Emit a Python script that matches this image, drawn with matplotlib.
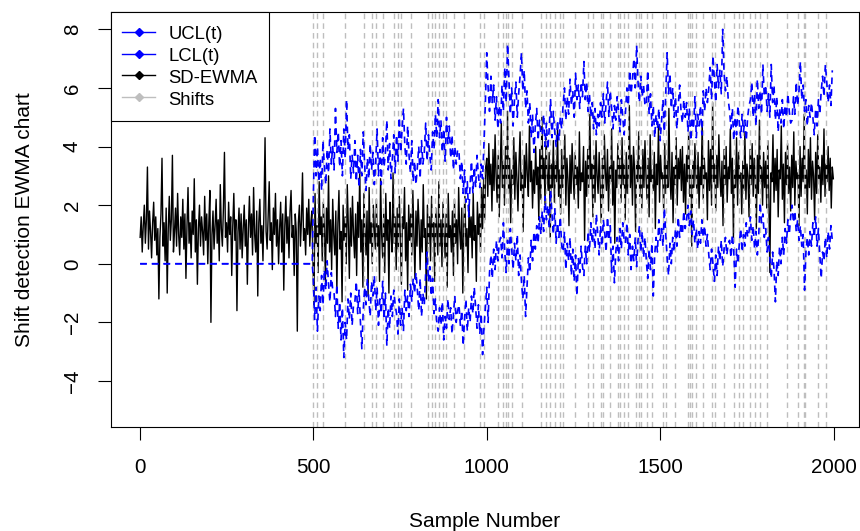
import numpy as np
import matplotlib.pyplot as plt
from matplotlib.lines import Line2D

plt.rcParams['font.family'] = ['Liberation Sans', 'DejaVu Sans']

ewma_x = np.arange(1, 2001, 3)
ewma = [
    0.9, 1.6, 0.4, 1.3, 2.0, 0.7, 1.5, 3.3, 0.5, 1.8, 1.1, 0.2, 1.4, 2.1, 0.8, 1.6, 0.3, 1.2, -1.2, 0.9,
    1.7, 3.6, 0.6, 1.4, 0.1, 1.9, -1.0, 1.2, 2.3, 0.8, 1.5, 3.7, 0.4, 1.1, 1.9, 0.6, 2.4, 1.0, 0.3, 1.6,
    0.9, 2.2, 0.5, 1.7, -0.5, 1.3, 2.6, 0.7, 1.4, 0.2, 1.8, 1.0, 2.9, 0.4, 1.5, -0.7, 1.2, 2.0, 0.6, 1.6,
    1.1, 0.3, 2.3, 0.8, 1.7, 0.0, 1.4, 2.5, -2.0, 1.0, 1.8, 0.5, 1.3, 2.2, 0.7, 1.5, 0.1, 2.7, 1.2, 0.6,
    1.9, 3.8, 0.9, 1.4, 0.4, 2.1, 1.0, 1.6, -0.4, 1.3, 2.4, 0.8, 1.5, -1.6, 1.1, 1.9, 0.5, 1.7, 0.2, 1.2,
    2.0, 0.6, 1.5, -0.7, 1.2, 2.3, 0.9, 1.7, 0.3, 2.6, 1.0, 0.4, 1.8, -1.1, 1.4, 2.2, 0.7, 1.3, 0.1, 1.9,
    4.3, 1.1, 0.5, 1.6, 2.8, 0.8, 1.4, -0.2, 1.9, 1.0, 2.4, 0.6, 1.5, 0.0, 1.2, 2.1, 0.4, 1.7, -0.9, 1.3,
    2.3, 0.7, 1.6, 0.2, 1.8, 2.5, 0.9, 1.3, -0.4, 1.7, 1.1, -2.3, 1.4, 2.0, 0.6, 1.5, 3.1, 0.8, 1.2, 0.3,
    1.9, 1.0, 2.2, 0.6, 1.4, 1.8, 0.2, -1.5, 2.4, 0.7, 1.3, -0.3, 2.8, 1.0, 1.6, 0.1, 2.1, 1.2, -0.6, 1.9,
    0.7, 3.0, 0.4, 1.5, -0.2, 2.2, 1.0, 0.3, 1.8, -0.9, 1.4, 2.5, 0.5, 1.1, -1.3, 2.0, 0.8, 1.6, 0.0, 2.7,
    1.3, -0.5, 1.9, 0.6, 2.3, 1.0, 0.2, 1.7, -0.4, 2.1, 0.9, 3.2, 0.4, 1.5, -0.8, 2.4, 1.1, 0.3, 1.8, -1.1,
    2.6, 0.7, 1.4, 0.0, 2.0, 1.2, 0.5, 2.2, 0.6, 1.3, -0.6, 2.9, 1.0, 0.2, 1.7, -0.3, 2.4, 0.8, 1.5, -1.0,
    2.1, 1.1, 0.4, 3.1, 0.7, 1.6, -0.2, 1.9, 0.5, 2.3, 0.9, -0.7, 1.6, 1.2, 2.6, 0.1, 1.4, -0.9, 2.0, 0.8,
    1.7, 0.3, 2.5, 1.0, -0.5, 1.8, 0.6, 2.2, 1.3, -0.2, 1.5, 0.4, 2.7, 0.9, 1.2, -1.2, 2.0, 0.7, 1.6, 0.1,
    2.3, 0.8, 1.4, -0.6, 1.9, 1.1, 0.3, 2.8, 0.6, 1.5, -0.1, 2.1, 1.0, 0.2, 1.7, -0.8, 2.4, 0.9, 1.3, 0.4,
    1.8, -0.4, 2.2, 0.7, 1.5, 0.0, 2.6, 1.1, 0.5, 1.9, -1.0, 1.4, 2.3, 0.6, 1.2, -0.3, 2.0, 0.9, 1.6, 0.2,
    2.4, 0.8, 1.3, -0.6, 2.1, 1.0, 1.7, 0.4, 2.6, 1.2, 2.9, 1.5, 3.3, 3.6, 2.3, 4.1, 2.7, 3.4, 1.8, 3.9,
    2.5, 4.4, 3.0, 2.1, 3.7, 1.6, 3.3, 4.8, 2.6, 3.5, 2.0, 4.0, 2.9, 5.2, 2.4, 3.6, 1.4, 3.2, 2.7, 4.3,
    2.2, 3.8, 2.9, 1.8, 3.4, 4.5, 2.5, 3.1, 1.1, 3.7, 2.6, 4.1, 3.0, 2.3, 4.7, 2.8, 3.5, 1.9, 3.2, 2.4,
    4.0, 2.7, 3.3, 1.5, 3.9, 2.2, 5.0, 2.9, 3.6, 2.0, 4.3, 3.1, 2.5, 3.8, 0.9, 3.4, 2.6, 4.2, 2.1, 3.5,
    2.8, 4.6, 2.3, 3.2, 1.7, 3.9, 2.6, 3.4, 4.4, 2.0, 3.6, 2.9, 1.3, 3.7, 2.4, 4.1, 3.0, 2.2, 3.8, 2.7,
    3.3, 1.9, 4.5, 2.5, 3.1, 2.8, 4.0, 0.8, 3.5, 2.3, 3.9, 2.6, 5.1, 2.9, 3.4, 1.6, 3.7, 2.1, 4.2, 3.0,
    2.4, 3.8, 2.7, 1.4, 3.6, 2.2, 4.4, 3.1, 2.5, 3.9, 1.8, 3.3, 2.8, 4.6, 2.0, 3.5, 0.7, 3.2, 2.6, 4.1,
    2.9, 3.6, 2.1, 4.3, 2.7, 3.4, 1.5, 3.8, 2.4, 3.1, 5.4, 2.6, 3.7, 2.0, 4.0, 3.2, 1.1, 3.5, 2.8, 4.5,
    2.3, 3.3, 1.9, 3.9, 2.6, 4.2, 3.0, 2.2, 3.6, 1.6, 4.4, 2.8, 3.2, 2.5, 3.8, 1.2, 3.4, 2.7, 4.7, 2.1,
    3.7, 2.9, 3.1, 1.8, 4.1, 2.4, 3.5, 2.6, 5.3, 3.0, 2.2, 3.8, 1.4, 3.3, 2.7, 4.3, 2.0, 3.6, 2.9, 3.9,
    2.5, 4.0, 2.1, 3.4, 1.7, 3.7, 2.8, 4.5, 2.3, 3.2, 0.6, 3.5, 2.6, 4.1, 3.0, 2.4, 3.8, 1.9, 3.3, 2.7,
    4.8, 2.2, 3.6, 2.9, 3.1, 1.5, 4.2, 2.5, 3.9, 2.0, 5.5, 2.8, 3.4, 1.8, 3.7, 2.6, 4.4, 3.0, 2.3, 3.5,
    1.3, 3.9, 2.7, 4.0, 2.1, 3.3, 2.9, 4.6, 2.4, 3.6, 0.9, 3.2, 2.6, 4.3, 2.0, 3.8, 2.8, 3.1, 1.7, 3.5,
    2.5, 4.5, 2.2, 3.4, 3.0, 1.6, 3.9, 2.7, 4.1, 2.3, 3.6, 2.9, 1.2, 3.7, 2.4, 4.9, 2.8, 3.3, 2.0, 3.8,
    2.6, 3.5, 1.9, 4.2, 2.3, -0.3, 3.1, 2.8, 4.4, 2.1, 3.6, 2.5, 3.9, 1.6, 3.2, 2.9, 4.7, 2.2, 3.4, 1.4,
    3.8, 2.7, 4.1, 2.4, 3.3, 1.8, 3.7, 2.6, 4.5, 2.0, 3.5, 2.9, 3.1, 1.3, 4.0, 2.3, 3.6, 2.8, 5.1, 2.5,
    3.2, 1.7, 3.9, 2.6, 4.3, 2.2, 3.5, 3.0, 1.5, 3.8, 2.4, 4.4, 2.9, 3.3, 2.1, 3.7, 2.7, 4.6, 2.3, 3.4,
    2.8, 4.0, 2.5, 3.6, 1.9, 3.3, 2.9,
]

# control limits: flat at zero before sample 500, then every 4th sample
lim_flat_x = [1, 497]
lim_flat = [0.0, 0.0]
lim_x = np.arange(500, 2000, 4)
ucl = [
    2.2, 4.4, 3.0, 4.0, 2.8, 3.6, 2.5, 4.2, 3.3, 2.7, 3.9, 3.1, 4.6, 3.4, 4.0,
    3.2, 5.3, 3.8, 4.5, 3.3, 4.2, 3.0, 4.6, 3.6, 5.6, 3.9, 4.4, 2.9, 3.7, 3.1,
    4.2, 2.8, 3.7, 2.6, 3.9, 3.0, 4.5, 3.4, 2.5, 3.6, 2.9, 4.1, 3.2, 3.8, 2.7,
    3.5, 4.6, 3.0, 3.9, 2.7, 4.3, 3.3, 3.8, 4.9, 3.2, 4.1, 2.9, 3.6, 4.4, 3.1,
    4.4, 3.5, 5.0, 3.8, 4.6, 5.3, 4.0, 3.4, 4.7, 3.7, 3.1, 4.2, 2.8, 3.5, 2.7,
    3.3, 4.0, 2.9, 4.2, 3.4, 3.8, 4.8, 3.5, 4.4, 3.7, 3.2, 4.5, 3.9, 5.1, 4.3,
    5.6, 4.3, 4.9, 3.8, 4.6, 3.5, 5.0, 4.1, 4.7, 3.6, 4.4, 3.2, 4.0, 3.4, 3.9,
    3.8, 2.9, 3.5, 2.4, 3.2, 2.1, 2.8, 1.6, 2.7, 3.5, 2.4, 3.3, 2.6, 3.7, 3.0,
    2.6, 3.4, 2.9, 4.1, 5.5, 7.2, 6.0, 5.2, 6.4, 5.5, 6.1, 4.9, 5.7, 4.6, 5.4,
    4.8, 6.1, 5.2, 6.7, 5.5, 7.5, 6.3, 5.1, 6.0, 4.7, 5.6, 6.2, 5.0, 5.8, 6.4,
    7.2, 5.9, 6.6, 5.3, 5.9, 4.8, 5.5, 4.3, 5.1, 3.8, 4.7, 5.3, 4.2, 4.9, 4.4,
    4.4, 5.1, 4.0, 4.8, 3.9, 4.6, 5.6, 4.3, 5.2, 4.5, 4.0, 4.9, 4.2, 5.0, 4.6,
    5.4, 6.0, 4.9, 5.7, 5.1, 6.3, 5.4, 5.9, 5.0, 6.5, 5.6, 6.1, 5.3, 6.2, 5.7,
    6.9, 5.6, 6.2, 5.2, 5.8, 5.0, 5.5, 4.6, 5.3, 4.4, 5.1, 4.7, 5.5, 5.0, 5.8,
    4.8, 5.5, 6.2, 5.0, 5.9, 5.3, 4.6, 5.4, 4.9, 5.7, 5.2, 4.5, 5.6, 5.0, 4.4,
    5.2, 6.0, 5.4, 6.6, 5.8, 6.3, 7.0, 6.0, 7.45, 6.2, 5.5, 6.4, 5.7, 6.1, 5.4,
    5.4, 6.6, 5.1, 5.8, 4.7, 5.4, 4.3, 5.1, 4.6, 5.3, 4.2, 4.9, 5.6, 4.5, 5.9,
    7.2, 5.8, 6.5, 5.3, 6.0, 5.0, 5.7, 4.6, 5.4, 6.1, 5.2, 4.8, 5.6, 5.0, 5.5,
    4.5, 5.3, 4.2, 5.0, 4.6, 5.7, 4.3, 5.1, 4.7, 5.4, 4.4, 5.9, 5.2, 6.0, 5.5,
    6.0, 6.7, 5.6, 7.1, 6.3, 5.5, 6.8, 6.0, 6.6, 5.8, 8.0, 6.5, 5.9, 6.4, 5.6,
    5.2, 4.6, 5.3, 4.2, 5.0, 4.4, 5.4, 4.8, 4.3, 5.1, 4.5, 4.9, 4.2, 5.0, 5.4,
    5.6, 6.2, 5.0, 5.8, 4.7, 6.3, 5.3, 5.9, 5.1, 6.8, 5.7, 6.1, 5.2, 5.8, 5.0,
    6.8, 5.5, 6.1, 4.9, 5.7, 4.5, 5.3, 4.8, 5.6, 4.6, 5.4, 5.0, 5.8, 5.2, 4.8,
    4.9, 5.7, 5.1, 6.2, 5.4, 5.9, 6.9, 5.6, 6.1, 5.2, 5.6, 4.7, 5.4, 5.0, 5.5,
    5.0, 4.4, 5.3, 4.7, 5.6, 5.1, 5.9, 6.4, 5.7, 6.8, 6.2, 5.5, 6.1, 5.4, 6.6,
]
lcl = [
    -0.5, -1.9, -0.8, -2.3, -1.1, -1.6, -0.4, -1.4, -0.2, -0.9, 0.1, -0.7, -1.3, -0.3, -0.9,
    -1.0, -1.8, -0.7, -2.2, -1.3, -2.6, -1.5, -3.2, -2.0, -2.6, -1.2, -1.9, -1.0, -2.1, -1.4,
    -1.3, -0.6, -1.7, -0.9, -2.0, -2.9, -1.6, -0.8, -1.4, -0.5, -1.2, -1.8, -0.6, -1.1, -0.4,
    -1.6, -0.8, -2.1, -1.2, -1.7, -0.6, -1.9, -1.0, -2.8, -1.5, -2.2, -1.1, -1.8, -0.9, -1.4,
    -1.7, -2.4, -1.2, -2.1, -1.5, -2.3, -0.9, -1.6, -1.1, -1.8, -0.7, -1.3, -0.5, -1.0, -0.3,
    -0.9, -1.6, -0.5, -1.8, -1.0, -1.4, -0.3, 0.4, -0.6, -0.1, -1.1, -0.5, -1.7, -1.2, -2.0,
    -2.3, -1.5, -2.1, -1.3, -2.6, -1.8, -2.2, -1.2, -1.9, -1.5, -2.4, -1.7, -1.1, -2.0, -1.6,
    -1.4, -2.1, -1.6, -2.8, -1.9, -1.2, -2.3, -1.5, -2.0, -1.1, -1.7, -0.8, -1.5, -2.2, -1.4,
    -2.4, -1.7, -3.1, -2.2, -1.5, -0.8, -2.0, -0.3, 0.3, -0.5, 0.5, -0.2, 0.8, 0.1, 0.7,
    0.9, 0.2, 1.4, 0.4, -0.3, 0.8, 0.0, 1.2, 0.5, -0.2, 0.7, 0.1, 1.0, -0.4, 0.3,
    -0.6, -1.2, -0.4, -1.8, -0.8, 0.2, -0.3, 0.8, 0.1, 1.1, 0.5, 1.3, 0.7, 1.6, 1.0,
    1.8, 1.1, 2.3, 1.5, 2.0, 1.2, 2.5, 1.7, 1.0, 1.9, 0.7, 1.4, 0.9, 1.6, 0.6,
    0.4, 1.1, -0.2, 0.7, 0.1, 0.9, -0.4, 0.5, -0.6, 0.3, -1.1, 0.2, -0.3, 0.6, -0.1,
    -0.4, 0.6, 0.0, 1.1, 0.4, 1.4, 0.7, 1.2, 0.5, 1.7, 1.0, 0.3, 1.3, 0.6, 1.5,
    1.1, 0.4, 1.6, 0.8, 1.3, -0.3, 0.6, -0.65, 0.4, 0.9, 0.1, 1.2, 0.5, 1.4, 0.8,
    0.7, 1.4, 0.3, 1.0, -0.2, 0.6, 0.1, 0.9, -0.1, 0.8, 1.3, 0.4, 1.1, 0.2, 0.9,
    0.1, -0.5, 0.5, -0.2, 0.7, -1.1, 0.3, 0.9, 0.4, 1.5, 0.8, 1.2, 0.6, 1.9, 1.0,
    0.2, -0.4, 0.7, 0.0, 0.9, 0.4, 1.2, 0.6, 1.6, 0.9, 1.4, 1.0, 1.8, 1.2, 1.5,
    2.0, 1.3, 1.8, 1.0, 1.5, 0.7, 1.2, 0.5, 1.1, 0.7, 1.5, 0.9, 1.3, 0.6, 1.0,
    0.3, -0.2, 0.5, 0.0, -0.6, 0.3, -0.4, 0.6, 0.1, 0.8, -0.1, 0.5, 0.9, 0.3, 0.7,
    0.8, 0.2, 1.0, 0.4, -0.8, 0.5, 0.0, 0.7, 1.2, 0.4, 1.0, 0.6, 1.4, 0.9, 1.1,
    1.6, 0.8, 1.3, 0.5, 1.1, 0.3, 1.0, 2.1, 1.4, 1.7, 0.9, 1.2, 0.4, 0.9, 0.2,
    -0.5, 0.4, -0.2, -1.3, 0.1, -0.4, 0.6, 0.0, 0.9, 0.3, 1.2, 0.7, 1.5, 1.0, 1.6,
    2.0, 1.4, 1.8, 1.1, 1.5, 0.8, 1.3, 0.6, 1.0, -0.9, 0.4, 0.9, 0.3, 1.1, 0.6,
    1.4, 0.9, 1.6, 0.6, 1.2, 0.3, -0.5, 0.4, 0.1, 0.9, 0.2, 1.1, 0.5, 1.3, 0.8,
]

# detected shift positions
shifts = [500, 511, 529, 591, 647, 668, 681, 702, 733, 743, 752, 781, 831, 843, 851,
          863, 875, 884, 905, 935, 982, 992, 1033, 1047, 1055, 1062, 1073, 1103, 1155,
          1170, 1182, 1196, 1211, 1220, 1254, 1291, 1307, 1329, 1334, 1355, 1377, 1384,
          1395, 1406, 1429, 1439, 1446, 1461, 1477, 1509, 1518, 1542, 1581, 1585, 1592,
          1602, 1624, 1650, 1658, 1683, 1712, 1727, 1739, 1758, 1773, 1789, 1808, 1864,
          1898, 1914, 1917, 1955, 1977]

fig = plt.figure(figsize=(8.6, 5.31), dpi=100)
ax = fig.add_axes([111 / 860, 1 - 426.7 / 531, 747.5 / 860, 414.4 / 531])

dash = (0, (4, 3))
ax.plot(ewma_x, ewma, color='black', lw=1.0, zorder=1)
for s in shifts:
    ax.axvline(s, color='#BEBEBE', lw=1.0, ls=dash, zorder=2)
ax.plot(np.r_[lim_flat_x, lim_x], np.r_[lim_flat, ucl], color='blue', lw=1.2, ls=dash, zorder=3)
ax.plot(np.r_[lim_flat_x, lim_x], np.r_[lim_flat, lcl], color='blue', lw=1.2, ls=dash, zorder=3)

ax.set_xlim(-83, 2071.5)
ax.set_ylim(-5.56, 8.58)
ax.set_xticks([0, 500, 1000, 1500, 2000])
ax.set_yticks([-4, -2, 0, 2, 4, 6, 8])
ax.tick_params(length=9.4, width=0.8, labelsize=14.8)
ax.tick_params(axis='x', pad=13)
ax.tick_params(axis='y', pad=11.5)
for lab in ax.get_yticklabels():
    lab.set_rotation(90)
    lab.set_va('center')
for sp in ax.spines.values():
    sp.set_linewidth(0.8)

ax.set_xlabel('Sample Number', fontsize=15, labelpad=25)
ax.set_ylabel('Shift detection EWMA chart', fontsize=15, labelpad=21)

handles = [
    Line2D([], [], color='blue', lw=1, marker='D', ms=4),
    Line2D([], [], color='blue', lw=1, marker='D', ms=4),
    Line2D([], [], color='black', lw=1, marker='D', ms=4),
    Line2D([], [], color='#BEBEBE', lw=1, marker='D', ms=4),
]
leg = ax.legend(handles, ['UCL(t)', 'LCL(t)', 'SD-EWMA', 'Shifts'],
                loc='upper left', bbox_to_anchor=(0, 1), borderaxespad=0,
                fontsize=13.3, fancybox=False, edgecolor='black', framealpha=1,
                handlelength=1.75, handleheight=1.2, handletextpad=0.75,
                labelspacing=0.12, borderpad=0.62)
leg.get_frame().set_linewidth(0.8)
leg.set_zorder(5)

fig.savefig('out.png', dpi=100)
